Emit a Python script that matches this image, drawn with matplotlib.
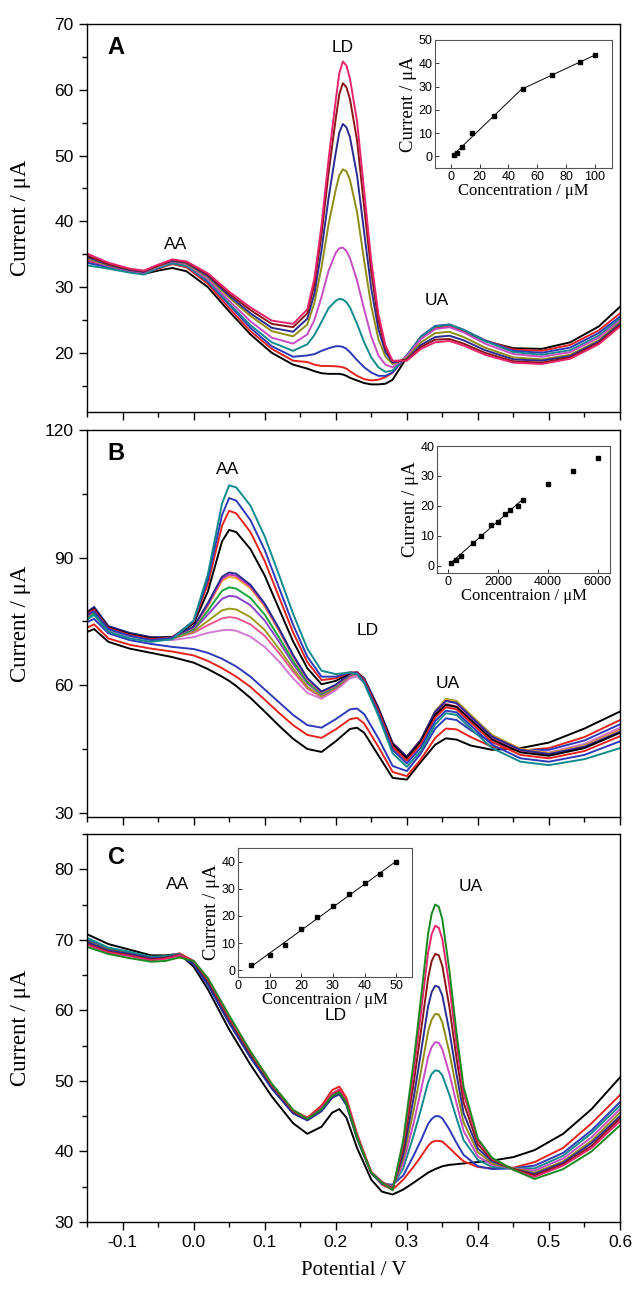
import matplotlib
matplotlib.use("Agg")
import matplotlib.pyplot as plt
import numpy as np
from matplotlib.ticker import MultipleLocator

plt.rcParams['font.family'] = ['Liberation Sans', 'DejaVu Sans']
plt.rcParams['axes.unicode_minus'] = False

SERIF = ['Liberation Serif', 'DejaVu Serif']

# ---------------- panel A : LD additions ----------------
xA = [-0.15, -0.12, -0.09, -0.07, -0.05, -0.03, -0.01, 0.02, 0.05, 0.08, 0.11, 0.14,
      0.16, 0.17, 0.18, 0.19, 0.20, 0.205, 0.21, 0.215, 0.22, 0.23, 0.24, 0.25, 0.26, 0.27, 0.28,
      0.30, 0.32, 0.34, 0.36, 0.38, 0.41, 0.45, 0.49, 0.53, 0.57, 0.60]
a_black = [34.6, 33.3, 32.4, 32.0, 32.5, 32.9, 32.4, 30.0, 26.3, 22.8, 20.0, 18.2,
           17.6, 17.2, 16.9, 16.8, 16.8, 16.8, 16.7, 16.5, 16.2, 15.8, 15.4, 15.2, 15.2, 15.3, 15.9,
           19.3, 22.3, 23.8, 24.0, 23.3, 21.8, 20.7, 20.6, 21.6, 24.0, 27.0]
a_red = [34.0, 33.2, 32.4, 32.1, 32.8, 33.5, 33.0, 30.5, 26.8, 23.3, 20.6, 18.8,
         18.6, 18.2, 18.0, 18.0, 17.95, 17.9, 17.8, 17.6, 17.2, 16.5, 16.0, 15.8, 15.9, 16.3, 17.0,
         19.5, 22.4, 23.9, 24.1, 23.4, 21.9, 20.5, 20.3, 21.2, 23.4, 26.0]
a_blue = [33.7, 33.0, 32.3, 32.0, 32.9, 33.7, 33.2, 30.8, 27.3, 23.8, 21.0, 19.4,
          19.6, 19.8, 20.3, 20.7, 21.0, 21.0, 20.9, 20.6, 20.1, 18.9, 17.8, 17.0, 16.5, 16.5, 17.0,
          19.6, 22.5, 24.1, 24.3, 23.5, 21.9, 20.3, 20.0, 20.8, 23.0, 25.5]
a_teal = [33.3, 32.8, 32.2, 31.9, 32.9, 33.6, 33.2, 31.0, 27.5, 24.2, 21.6, 20.3,
          21.3, 22.7, 24.7, 26.8, 27.9, 28.2, 28.1, 27.7, 26.9, 24.4, 21.6, 19.3, 17.8, 17.1, 17.3,
          19.6, 22.4, 24.0, 24.3, 23.5, 21.8, 20.1, 19.7, 20.4, 22.6, 25.2]
a_magenta = [34.2, 33.2, 32.5, 32.2, 33.1, 33.9, 33.5, 31.2, 27.9, 24.8, 22.3, 21.4,
             22.8, 25.0, 28.5, 32.5, 35.2, 35.9, 36.0, 35.5, 34.4, 31.0, 26.6, 22.5, 19.6, 18.2, 17.8,
             19.5, 22.1, 23.6, 23.9, 23.1, 21.4, 19.8, 19.4, 20.1, 22.3, 24.9]
a_olive = [34.4, 33.3, 32.6, 32.3, 33.2, 34.0, 33.6, 31.5, 28.4, 25.6, 23.3, 22.5,
           24.3, 27.6, 33.0, 39.6, 44.8, 47.0, 47.9, 47.6, 46.3, 41.4, 34.0, 27.1, 22.1, 19.4, 18.3,
           19.2, 21.6, 23.0, 23.2, 22.4, 20.8, 19.3, 19.0, 19.7, 21.9, 24.6]
a_navy = [34.6, 33.4, 32.6, 32.3, 33.3, 34.0, 33.7, 31.7, 28.7, 26.0, 23.8, 23.2,
          25.2, 29.0, 35.6, 43.6, 50.4, 53.5, 54.8, 54.3, 52.8, 47.0, 38.3, 29.8, 23.6, 20.1, 18.5,
          19.0, 21.2, 22.4, 22.6, 21.9, 20.4, 19.0, 18.8, 19.5, 21.7, 24.4]
a_maroon = [34.8, 33.5, 32.7, 32.4, 33.3, 34.1, 33.8, 31.9, 29.0, 26.5, 24.4, 23.9,
            26.0, 30.4, 38.0, 47.4, 55.6, 59.3, 61.0, 60.4, 58.6, 52.3, 42.2, 32.3, 24.9, 20.7, 18.7,
            18.9, 20.9, 22.0, 22.1, 21.4, 20.0, 18.7, 18.5, 19.3, 21.5, 24.2]
a_pink = [35.1, 33.7, 32.8, 32.5, 33.4, 34.2, 33.9, 32.1, 29.3, 26.9, 24.9, 24.4,
          26.6, 31.3, 39.4, 49.5, 58.4, 62.5, 64.3, 63.7, 61.7, 55.2, 44.6, 34.0, 25.9, 21.1, 18.8,
          18.8, 20.6, 21.6, 21.8, 21.1, 19.7, 18.5, 18.3, 19.1, 21.3, 24.0]

# ---------------- panel B : AA additions ----------------
xB = [-0.15, -0.14, -0.12, -0.09, -0.06, -0.03, 0.0, 0.02, 0.04, 0.05, 0.06, 0.08,
      0.10, 0.12, 0.14, 0.16, 0.18, 0.20, 0.22, 0.23, 0.24, 0.26, 0.28, 0.30,
      0.32, 0.34, 0.355, 0.37, 0.39, 0.42, 0.46, 0.50, 0.55, 0.60]
b_black1 = [72.5, 73.2, 70.2, 68.6, 67.6, 66.6, 65.3, 63.8, 62.0, 61.0, 59.8, 57.0,
            53.8, 50.5, 47.4, 45.0, 44.3, 46.8, 49.7, 50.0, 48.8, 43.5, 38.2, 37.8,
            42.0, 46.0, 47.5, 47.2, 45.8, 44.8, 45.2, 46.5, 49.8, 53.8]
b_red1 = [73.5, 74.3, 71.0, 69.5, 68.6, 67.9, 67.0, 65.7, 64.0, 63.0, 62.0, 59.6,
          56.6, 53.5, 50.6, 48.3, 47.6, 49.6, 52.0, 52.3, 51.0, 45.5, 39.6, 38.6,
          42.6, 47.6, 49.8, 49.6, 47.8, 45.5, 44.6, 45.2, 47.8, 51.8]
b_blue1 = [74.8, 75.6, 72.2, 70.6, 69.7, 69.0, 68.5, 67.6, 66.2, 65.3, 64.4, 62.0,
           59.0, 56.0, 53.0, 50.6, 50.0, 52.0, 54.3, 54.5, 53.2, 47.5, 41.0, 39.8,
           44.0, 49.8, 52.2, 51.8, 49.4, 46.5, 44.7, 44.8, 47.0, 50.8]
b_lmag = [75.8, 76.8, 73.0, 71.5, 70.7, 70.6, 71.3, 72.3, 72.9, 73.0, 72.8, 71.4,
          69.0, 65.6, 61.6, 58.2, 56.8, 58.8, 61.6, 62.0, 60.6, 53.6, 45.2, 42.2,
          46.2, 52.6, 55.0, 54.5, 51.6, 47.6, 44.6, 44.2, 46.2, 50.0]
b_pink = [76.4, 77.6, 73.5, 72.0, 71.0, 71.0, 72.3, 74.1, 75.7, 76.0, 75.8, 74.3,
          71.6, 67.6, 63.2, 59.2, 57.2, 59.2, 62.0, 62.5, 61.0, 54.0, 45.6, 42.6,
          46.6, 53.2, 55.6, 55.0, 52.0, 47.8, 44.6, 43.8, 45.8, 49.6]
b_olive = [76.0, 77.3, 73.4, 71.9, 70.9, 71.0, 72.6, 75.1, 77.6, 78.0, 77.8, 76.0,
           73.0, 68.6, 63.9, 59.6, 57.4, 59.4, 62.3, 62.7, 61.2, 54.3, 46.0, 43.0,
           47.0, 53.8, 56.8, 56.3, 53.0, 48.3, 45.0, 44.0, 45.8, 49.4]
b_violet = [76.6, 77.8, 73.6, 72.0, 71.0, 71.1, 73.0, 76.6, 80.3, 81.0, 80.8, 78.8,
            75.2, 70.3, 65.0, 60.4, 57.8, 59.6, 62.4, 62.8, 61.3, 54.4, 46.1, 43.0,
            47.0, 53.6, 56.4, 55.9, 52.7, 48.0, 44.8, 43.8, 45.6, 49.2]
b_green = [75.5, 76.9, 73.2, 71.8, 70.8, 71.0, 73.2, 77.5, 82.2, 83.0, 82.7, 80.5,
           76.6, 71.3, 65.7, 60.8, 58.0, 59.7, 62.5, 62.9, 61.4, 54.5, 46.2, 43.1,
           47.1, 53.8, 56.6, 56.1, 52.8, 48.1, 44.9, 43.9, 45.6, 49.0]
b_orange = [77.0, 78.2, 73.8, 72.2, 71.2, 71.3, 73.6, 78.6, 84.5, 85.5, 85.2, 82.8,
            78.5, 72.8, 66.7, 61.4, 58.3, 59.9, 62.6, 63.0, 61.5, 54.6, 46.3, 43.2,
            47.2, 53.9, 56.6, 56.1, 52.8, 48.1, 45.0, 44.0, 45.7, 49.3]
b_magenta = [76.2, 77.5, 73.5, 72.0, 71.0, 71.2, 73.6, 78.9, 85.0, 86.0, 85.7, 83.2,
             78.9, 73.1, 66.9, 61.5, 58.4, 60.0, 62.6, 63.0, 61.5, 54.6, 46.3, 43.1,
             47.1, 53.7, 56.3, 55.8, 52.6, 47.9, 44.8, 43.8, 45.5, 49.0]
b_navy = [77.2, 78.4, 73.9, 72.3, 71.3, 71.3, 73.8, 79.3, 85.5, 86.5, 86.2, 83.6,
          79.2, 73.4, 67.1, 61.7, 58.5, 60.1, 62.7, 63.1, 61.6, 54.7, 46.4, 43.2,
          47.2, 53.8, 56.3, 55.8, 52.6, 47.9, 44.8, 43.8, 45.5, 49.0]
b_black2 = [77.0, 78.0, 73.6, 72.0, 71.0, 71.3, 74.5, 82.0, 93.8, 96.5, 96.0, 92.0,
            85.8, 78.0, 70.3, 64.0, 60.2, 61.0, 62.8, 62.9, 61.2, 54.3, 46.0, 42.8,
            46.8, 53.0, 55.4, 54.9, 51.8, 47.2, 44.2, 43.4, 45.2, 48.8]
b_red2 = [76.8, 77.7, 73.4, 71.8, 70.8, 71.2, 74.9, 83.7, 97.5, 101.0, 100.4, 96.0,
          89.2, 80.8, 72.4, 65.4, 61.2, 61.6, 63.0, 63.0, 61.2, 54.0, 45.5, 42.3,
          46.2, 52.4, 54.8, 54.3, 51.2, 46.7, 43.6, 42.8, 44.5, 48.0]
b_blue2 = [76.5, 77.4, 73.2, 71.6, 70.6, 71.1, 75.1, 84.9, 100.0, 104.0, 103.4, 98.8,
           91.8, 83.0, 74.2, 66.7, 62.0, 62.0, 63.0, 62.8, 60.8, 53.4, 44.8, 41.6,
           45.4, 51.6, 54.0, 53.6, 50.5, 46.0, 42.8, 42.0, 43.6, 46.8]
b_teal = [75.4, 76.5, 72.6, 71.0, 70.2, 70.8, 75.2, 86.0, 102.7, 107.0, 106.5, 102.2,
          95.0, 86.0, 76.8, 68.6, 63.4, 62.6, 63.0, 62.6, 60.5, 52.8, 44.0, 40.8,
          44.6, 50.8, 53.4, 53.0, 49.8, 45.2, 42.0, 41.2, 42.6, 45.2]

# ---------------- panel C : UA additions ----------------
xC = [-0.15, -0.12, -0.09, -0.06, -0.04, -0.02, 0.0, 0.02, 0.05, 0.08, 0.11, 0.14,
      0.16, 0.18, 0.195, 0.205, 0.215, 0.23, 0.25, 0.265,
      0.28, 0.295, 0.31, 0.32, 0.33, 0.335, 0.34, 0.345, 0.35, 0.36, 0.37, 0.38, 0.40, 0.42, 0.45,
      0.48, 0.52, 0.56, 0.60]
c_black = [70.8, 69.4, 68.6, 67.8, 67.8, 68.0, 66.2, 63.0, 57.3, 52.3, 47.8, 44.0,
           42.5, 43.5, 45.5, 46.0, 44.8, 40.5, 36.0, 34.3,
           33.9, 34.6, 35.6, 36.3, 37.0, 37.25, 37.5, 37.7, 37.9, 38.1, 38.2, 38.3, 38.5, 38.7, 39.2,
           40.2, 42.5, 46.0, 50.5]
c_red = [69.6, 68.6, 68.0, 67.4, 67.5, 68.1, 67.0, 64.4, 59.0, 54.0, 49.5, 45.8,
         44.8, 46.5, 48.7, 49.2, 47.6, 42.5, 37.0, 35.3,
         34.6, 36.0, 37.9, 39.3, 40.8, 41.3, 41.5, 41.5, 41.4, 40.5, 39.5, 38.6, 37.8, 37.6, 37.7,
         38.5, 40.5, 44.0, 48.0]
c_blue = [70.0, 68.7, 68.1, 67.4, 67.5, 67.9, 66.5, 63.6, 58.2, 53.3, 48.9, 45.4,
          44.6, 46.0, 48.0, 48.5, 47.0, 42.1, 36.9, 35.4,
          35.3, 36.6, 39.5, 41.6, 43.9, 44.6, 45.0, 45.0, 44.7, 43.1, 41.2, 39.5, 37.9, 37.5, 37.6,
          38.0, 39.8, 43.0, 47.0]
c_teal = [70.3, 68.9, 68.3, 67.6, 67.7, 68.0, 66.7, 63.9, 58.5, 53.5, 49.1, 45.5,
          44.5, 45.9, 47.7, 48.2, 46.7, 41.9, 36.9, 35.5,
          35.1, 37.6, 42.4, 46.0, 49.8, 51.0, 51.5, 51.4, 50.8, 48.0, 44.7, 41.6, 38.8, 37.8, 37.6,
          37.6, 39.4, 42.6, 46.5]
c_magenta = [69.5, 68.4, 67.9, 67.3, 67.4, 67.8, 66.9, 64.2, 58.8, 53.8, 49.3, 45.7,
             44.6, 46.0, 47.9, 48.4, 46.9, 42.0, 37.0, 35.6,
             35.0, 38.3, 44.2, 48.7, 53.4, 54.8, 55.5, 55.4, 54.5, 51.0, 46.8, 42.9, 39.3, 38.1, 37.6,
             37.3, 39.0, 42.0, 46.0]
c_olive = [69.8, 68.6, 68.0, 67.4, 67.5, 67.9, 66.8, 64.1, 58.6, 53.6, 49.2, 45.6,
           44.6, 45.9, 47.8, 48.3, 46.8, 42.0, 37.0, 35.6,
           34.9, 39.0, 46.0, 51.4, 57.0, 58.7, 59.5, 59.4, 58.3, 54.0, 48.8, 44.1, 39.9, 38.3, 37.6,
           37.0, 38.6, 41.5, 45.5]
c_navy = [69.7, 68.5, 68.0, 67.4, 67.5, 67.9, 66.6, 63.8, 58.3, 53.4, 49.0, 45.4,
          44.4, 45.7, 47.6, 48.1, 46.6, 41.8, 36.9, 35.6,
          34.8, 39.6, 47.8, 54.1, 60.6, 62.6, 63.5, 63.3, 62.1, 57.0, 50.9, 45.4, 40.4, 38.6, 37.5,
          36.8, 38.4, 41.2, 45.0]
c_maroon = [69.4, 68.3, 67.8, 67.2, 67.4, 67.8, 66.9, 64.3, 58.9, 53.9, 49.4, 45.7,
            44.6, 46.1, 48.1, 48.6, 47.0, 42.1, 37.0, 35.7,
            34.7, 40.4, 49.9, 57.1, 64.6, 67.0, 68.0, 67.8, 66.3, 60.4, 53.2, 46.9, 41.0, 38.8, 37.5,
            36.6, 38.2, 40.8, 44.7]
c_pink = [69.3, 68.2, 67.7, 67.1, 67.3, 67.8, 67.0, 64.5, 59.1, 54.1, 49.5, 45.8,
          44.7, 46.2, 48.2, 48.8, 47.2, 42.2, 37.1, 35.7,
          34.6, 41.1, 51.6, 59.8, 68.2, 70.8, 72.0, 71.7, 70.1, 63.4, 55.2, 48.2, 41.5, 39.0, 37.4,
          36.4, 38.0, 40.5, 44.3]
c_green = [69.0, 68.0, 67.4, 66.9, 67.0, 67.5, 67.0, 64.6, 59.3, 54.2, 49.6, 45.9,
           44.6, 46.0, 47.9, 48.4, 46.9, 42.0, 37.0, 35.6,
           34.5, 41.6, 53.0, 61.8, 70.9, 73.7, 75.0, 74.7, 72.9, 65.6, 56.8, 49.1, 41.8, 39.1, 37.4,
           36.1, 37.5, 40.0, 43.7]

# ---------------- calibration insets ----------------
concA = [2, 4, 8, 15, 30, 50, 70, 90, 100]
curA = [0.5, 1.5, 4.0, 10.0, 17.5, 29.0, 35.0, 40.5, 43.5]
concB = [100, 300, 500, 1000, 1300, 1700, 2000, 2300, 2500, 2800, 3000, 4000, 5000, 6000]
curB = [0.8, 2.0, 3.3, 7.7, 10.0, 13.7, 14.7, 17.3, 18.6, 20.0, 22.0, 27.3, 31.7, 36.0]
concC = [4, 10, 15, 20, 25, 30, 35, 40, 45, 50]
curC = [1.8, 5.7, 9.3, 15.0, 19.5, 23.5, 28.0, 32.0, 35.5, 39.7]

BLACK = '#000000'
RED = '#e5231d'
BLUE = '#2d3ab8'
TEAL = '#0f8a8c'
MAGENTA = '#c74cc4'
OLIVE = '#8f8c14'
NAVY = '#2a2d8f'
MAROON = '#8b1414'
PINK = '#e8246c'
GREEN = '#168a1e'

fig = plt.figure(figsize=(6.34, 12.91), dpi=100)
W, H = 634.0, 1291.0
axA = fig.add_axes([87 / W, 1 - 412 / H, 533 / W, 388 / H])
axB = fig.add_axes([87 / W, 1 - 817 / H, 533 / W, 387 / H])
axC = fig.add_axes([87 / W, 1 - 1222 / H, 533 / W, 388 / H])

lw = 1.4
for y, c in zip([a_black, a_red, a_blue, a_teal, a_magenta, a_olive, a_navy, a_maroon, a_pink],
                [BLACK, RED, BLUE, TEAL, MAGENTA, OLIVE, NAVY, MAROON, PINK]):
    axA.plot(xA, y, color=c, lw=lw)

for y, c in zip([b_black1, b_red1, b_blue1, b_lmag, b_pink, b_olive, b_violet, b_green,
                 b_orange, b_magenta, b_navy, b_black2, b_red2, b_blue2, b_teal],
                [BLACK, RED, BLUE, '#d27ad2', '#e85890', '#9c9a1c', '#8a44c8', '#1aa33c',
                 '#f0a030', '#c232b8', NAVY, BLACK, RED, BLUE, TEAL]):
    axB.plot(xB, y, color=c, lw=lw)

for y, c in zip([c_black, c_red, c_blue, c_teal, c_magenta, c_olive, c_navy, c_maroon, c_pink, c_green],
                [BLACK, RED, BLUE, TEAL, MAGENTA, OLIVE, NAVY, MAROON, PINK, GREEN]):
    axC.plot(xC, y, color=c, lw=lw)


def style_main(ax, ylim, major, minor, letter, show_x):
    ax.set_xlim(-0.15, 0.6)
    ax.set_ylim(*ylim)
    ax.xaxis.set_major_locator(MultipleLocator(0.1))
    ax.xaxis.set_minor_locator(MultipleLocator(0.05))
    ax.yaxis.set_major_locator(MultipleLocator(major))
    ax.yaxis.set_minor_locator(MultipleLocator(minor))
    ax.tick_params(which='both', direction='out', labelsize=12.5, width=1.0)
    ax.tick_params(which='major', length=6)
    ax.tick_params(which='minor', length=3.5)
    if not show_x:
        ax.tick_params(axis='x', which='both', labelbottom=False)
    for s in ax.spines.values():
        s.set_linewidth(1.0)
    ax.set_ylabel('Current / μA', family=SERIF, fontsize=16.5)
    ax.yaxis.set_label_coords(-0.105, 0.5)
    ax.text(0.055, 0.94, letter, transform=ax.transAxes, fontsize=17,
            fontweight='bold', ha='center', va='center')


style_main(axA, (11, 70), 10, 5, 'A', False)
style_main(axB, (29, 120), 30, 15, 'B', False)
style_main(axC, (30, 85), 10, 5, 'C', True)
axC.set_xlabel('Potential / V', family=SERIF, fontsize=15, labelpad=8)

fs = 12.5
axA.text(-0.026, 36.4, 'AA', fontsize=fs, ha='center', va='center')
axA.text(0.210, 66.5, 'LD', fontsize=fs, ha='center', va='center')
axA.text(0.342, 28.0, 'UA', fontsize=fs, ha='center', va='center')
axB.text(0.048, 110.6, 'AA', fontsize=fs, ha='center', va='center')
axB.text(0.245, 72.9, 'LD', fontsize=fs, ha='center', va='center')
axB.text(0.358, 60.5, 'UA', fontsize=fs, ha='center', va='center')
axC.text(-0.023, 77.9, 'AA', fontsize=fs, ha='center', va='center')
axC.text(0.200, 59.3, 'LD', fontsize=fs, ha='center', va='center')
axC.text(0.390, 77.5, 'UA', fontsize=fs, ha='center', va='center')


def style_inset(ax, xlim, ylim, xmaj, ymaj, xlabel):
    ax.set_xlim(*xlim)
    ax.set_ylim(*ylim)
    ax.xaxis.set_major_locator(MultipleLocator(xmaj))
    ax.yaxis.set_major_locator(MultipleLocator(ymaj))
    ax.tick_params(which='both', direction='in', labelsize=9, length=3, width=0.7,
                   colors='#333333', labelcolor='black', pad=2)
    for s in ax.spines.values():
        s.set_linewidth(0.8)
        s.set_color('#555555')
    ax.set_ylabel('Current / μA', family=SERIF, fontsize=13.5, labelpad=1)
    ax.set_xlabel(xlabel, family=SERIF, fontsize=12, labelpad=0)


insA = fig.add_axes([435 / W, 1 - 168 / H, 177 / W, 128 / H])
insA.plot(concA, curA, 's', color='black', ms=3)
p1 = np.polyfit(concA[:6], curA[:6], 1)
p2 = np.polyfit(concA[5:], curA[5:], 1)
xs1 = np.array([concA[0], concA[5]])
xs2 = np.array([concA[5], concA[-1]])
insA.plot(xs1, np.polyval(p1, xs1), color='black', lw=0.7)
insA.plot(xs2, np.polyval(p2, xs2), color='black', lw=0.7)
style_inset(insA, (-11, 112), (-5, 50), 20, 10, 'Concentration / μM')

insB = fig.add_axes([437 / W, 1 - 573 / H, 173 / W, 127 / H])
insB.plot(concB, curB, 's', color='black', ms=3)
pb = np.polyfit(concB[:11], curB[:11], 1)
xsb = np.array([concB[0], concB[10]])
insB.plot(xsb, np.polyval(pb, xsb), color='black', lw=0.7)
style_inset(insB, (-450, 6500), (-2.5, 40), 2000, 10, 'Concentraion / μM')

insC = fig.add_axes([238 / W, 1 - 977 / H, 174 / W, 129 / H])
insC.plot(concC, curC, 's', color='black', ms=3)
pc = np.polyfit(concC, curC, 1)
xsc = np.array([concC[0], concC[-1]])
insC.plot(xsc, np.polyval(pc, xsc), color='black', lw=0.7)
style_inset(insC, (0, 55), (-2.5, 45), 10, 10, 'Concentraion / μM')

fig.savefig('out.png', dpi=100, facecolor='white')
